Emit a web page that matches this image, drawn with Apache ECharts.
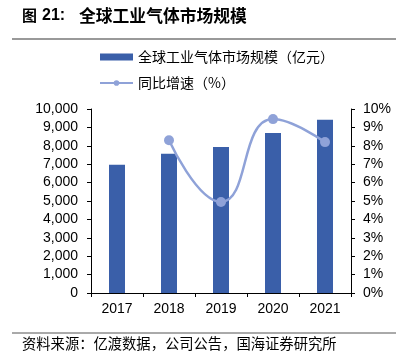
<!DOCTYPE html>
<html><head><meta charset="utf-8">
<script src="https://cdn.jsdelivr.net/npm/echarts@6/dist/echarts.min.js"></script>
<style>html,body{margin:0;padding:0;background:#fff}#c{width:396px;height:359px}</style>
</head><body><div id="c"></div>
<script>
const categories = ['2017','2018','2019','2020','2021'];
const marketSize = [6970, 7570, 7940, 8700, 9420];
const growth = [null, 8.3, 4.95, 9.45, 8.2];
const leftTicks = ['0','1,000','2,000','3,000','4,000','5,000','6,000','7,000','8,000','9,000','10,000'];
const barName = '全球工业气体市场规模（亿元）';
const lineName = '同比增速（%）';

const chart = echarts.init(document.getElementById('c'), null, {renderer:'canvas'});
const cjk = '"Noto Sans CJK SC", sans-serif';
const lat = '"Liberation Sans", Arial, sans-serif';
chart.setOption({
  animation:false,
  graphic:[
    {type:'text', left:22, top:8, style:{text:'图', font:'bold 15px "Noto Sans CJK SC"', fill:'#000'}},
    {type:'text', left:42, top:8, style:{text:'21:', font:'bold 16px "Liberation Sans"', fill:'#000', y:2}},
    {type:'text', left:79, top:7, style:{text:'全球工业气体市场规模', font:'bold 16.8px "Noto Sans CJK SC"', fill:'#000'}},
    {type:'line', shape:{x1:12,y1:39,x2:396,y2:39}, style:{stroke:'#999', lineWidth:2}},
    {type:'line', shape:{x1:12,y1:333,x2:396,y2:333}, style:{stroke:'#555', lineWidth:1}},
    {type:'text', left:22, top:336, style:{text:'资料来源：亿渡数据，公司公告，国海证券研究所', font:'14.3px "Noto Sans CJK SC"', fill:'#000'}}
  ],
  legend:{
    orient:'vertical', left:94, top:45, itemGap:12, itemWidth:33, itemHeight:7,
    textStyle:{fontFamily:cjk, fontSize:14, color:'#000'},
    data:[{name:barName, icon:'rect'}, {name:lineName}]
  },
  grid:{left:91, right:45, top:109, bottom:66},
  xAxis:{type:'category', data:categories,
    axisLine:{lineStyle:{color:'#000'}},
    axisTick:{show:true, alignWithLabel:false, length:4, lineStyle:{color:'#000'}},
    axisLabel:{fontFamily:lat, fontSize:14, color:'#000', margin:9}},
  yAxis:[
    {type:'value', min:0, max:10000, interval:1000, splitLine:{show:false},
     axisLine:{show:true, lineStyle:{color:'#000'}},
     axisTick:{show:true, length:4, lineStyle:{color:'#000'}},
     axisLabel:{fontFamily:lat, fontSize:14, color:'#000', margin:13,
       formatter:(v)=>leftTicks[Math.round(v/1000)]}},
    {type:'value', min:0, max:10, interval:1, splitLine:{show:false},
     axisLine:{show:true, lineStyle:{color:'#000'}},
     axisTick:{show:true, length:4, lineStyle:{color:'#000'}},
     axisLabel:{fontFamily:lat, fontSize:14, color:'#000', margin:12, formatter:'{value}%'}}
  ],
  series:[
    {name:barName, type:'bar', data:marketSize, barWidth:16, itemStyle:{color:'#3A5FA9'}},
    {name:lineName, type:'line', yAxisIndex:1, data:growth, smooth:true, symbol:'circle', symbolSize:10,
     itemStyle:{color:'#8FA2D8'}, lineStyle:{color:'#8FA2D8', width:2.5}}
  ]
});
</script></body></html>
